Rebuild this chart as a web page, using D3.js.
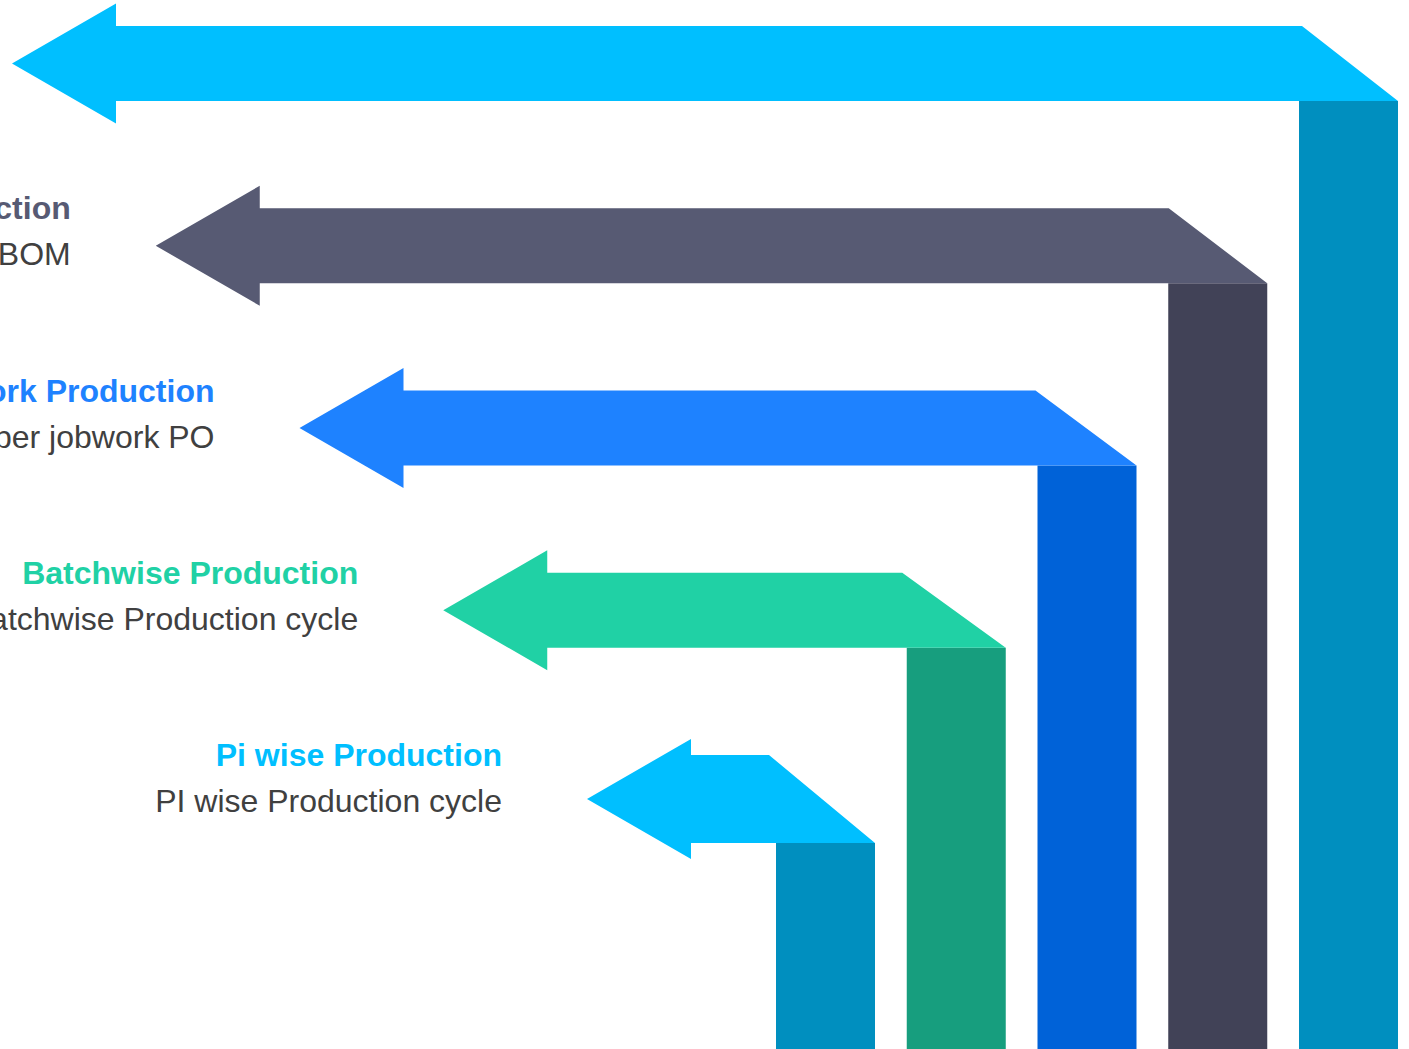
<!DOCTYPE html>
<html>
<head>
<meta charset="utf-8">
<script src="https://cdn.jsdelivr.net/npm/d3@7"></script>
<style>
  html, body { margin: 0; padding: 0; background: #fff; overflow: hidden; }
  svg { display: block; }
</style>
</head>
<body>
<div id="chart"></div>
<script>
// Steps, top to bottom
const titles = ["", "BOM wise Production", "Jobwork Production", "Batchwise Production", "Pi wise Production"];
const subtitles = ["", "Production as per BOM", "Production as per jobwork PO", "Batchwise Production cycle", "PI wise Production cycle"];
const bandColors = ["#00BFFF", "#575A73", "#1E82FF", "#20D1A5", "#00BFFF"];
const stemColors = ["#008FBF", "#414257", "#0062D8", "#179E7E", "#008FBF"];

const width = 1409, height = 1049;

const svg = d3.select("#chart").append("svg")
  .attr("width", width)
  .attr("height", height);

const n = titles.length;
const idx = d3.range(n);

// layout scales: step index -> band top, arrow tip, stem left edge
const yTop = d3.scaleLinear().domain([0, n - 1]).range([26, 755]);
const xTip = d3.scaleLinear().domain([0, n - 1]).range([12, 587]);
const xStem = d3.scaleLinear().domain([0, n - 1]).range([1299, 776]);

const stemW = 99;
const headW = 104, headH = 120;
const bandH = i => i === n - 1 ? 88 : 75;
const slant = i => 96 + 2.5 * i;

const g = svg.append("g");

// vertical stems (darker shade)
g.selectAll(".stem")
  .data(idx)
  .join("rect")
  .attr("class", "stem")
  .attr("x", i => xStem(i))
  .attr("y", i => yTop(i) + bandH(i))
  .attr("width", stemW)
  .attr("height", i => height - yTop(i) - bandH(i) + 10)
  .attr("fill", i => stemColors[i]);

// horizontal arrows
g.selectAll(".band")
  .data(idx)
  .join("path")
  .attr("class", "band")
  .attr("fill", i => bandColors[i])
  .attr("d", i => {
    const top = yTop(i), bot = top + bandH(i), cy = (top + bot) / 2;
    const tip = xTip(i), base = tip + headW;
    const right = xStem(i) + stemW;
    return d3.line()([
      [tip, cy],
      [base, cy - headH / 2],
      [base, top],
      [right - slant(i), top],
      [right, bot],
      [base, bot],
      [base, cy + headH / 2]
    ]) + "Z";
  });

// labels
const labels = g.selectAll(".label")
  .data(idx.filter(i => titles[i]))
  .join("g")
  .attr("class", "label")
  .attr("transform", i => `translate(${xTip(i) - 85}, ${yTop(i)})`);

labels.append("text")
  .attr("y", 11)
  .attr("text-anchor", "end")
  .attr("font-family", "'Liberation Sans', Arial, sans-serif")
  .attr("font-weight", "bold")
  .attr("font-size", 32)
  .attr("fill", i => bandColors[i])
  .text(i => titles[i]);

labels.append("text")
  .attr("y", 57)
  .attr("text-anchor", "end")
  .attr("font-family", "'Liberation Sans', Arial, sans-serif")
  .attr("font-size", 32)
  .attr("fill", "#404040")
  .text(i => subtitles[i]);
</script>
</body>
</html>
